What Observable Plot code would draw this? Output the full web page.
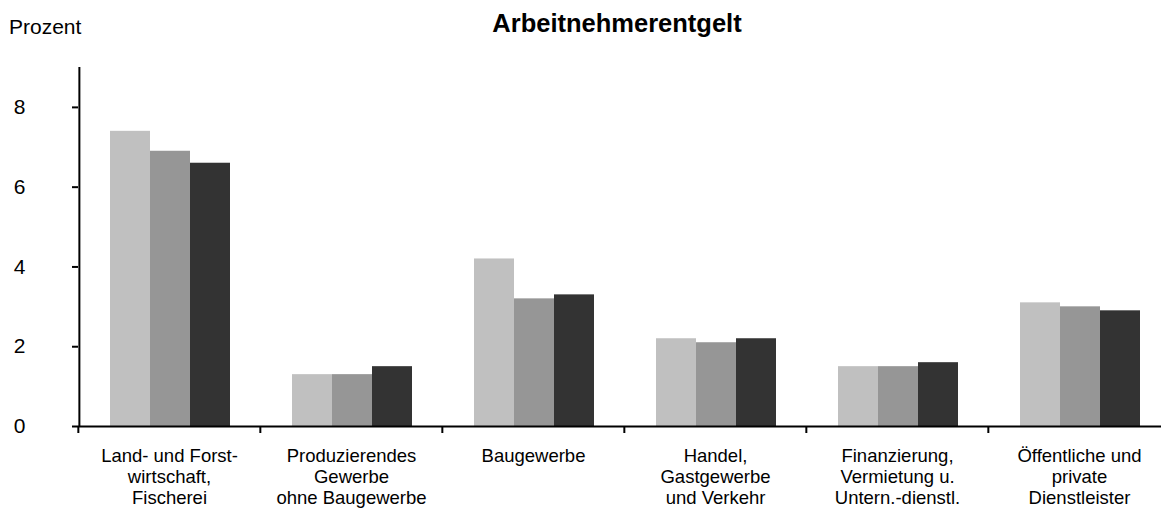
<!DOCTYPE html>
<html>
<head>
<meta charset="utf-8">
<script src="https://cdn.jsdelivr.net/npm/d3@7"></script>
<script src="https://cdn.jsdelivr.net/npm/@observablehq/plot@0.6"></script>
<style>
  body { margin: 0; background: #fff; font-family: "Liberation Sans", Arial, sans-serif; }
  #wrap { position: relative; width: 1161px; height: 512px; overflow: hidden; }
  #wrap svg { position: absolute; left: 0; top: 0; }
  #title { position: absolute; top: 10.8px; left: 617px; transform: translateX(-50%); font-weight: bold; font-size: 25.5px; line-height: 1; white-space: nowrap; color: #000; z-index: 2; }
  #unit { position: absolute; top: 16px; left: 9px; font-size: 21px; line-height: 1; color: #000; z-index: 2; }
</style>
</head>
<body>
<div id="wrap">
  <div id="title">Arbeitnehmerentgelt</div>
  <div id="unit">Prozent</div>
</div>
<script>
const categories = [
  "Land- und Forst-\nwirtschaft,\nFischerei",
  "Produzierendes\nGewerbe\nohne Baugewerbe",
  "Baugewerbe",
  "Handel,\nGastgewerbe\nund Verkehr",
  "Finanzierung,\nVermietung u.\nUntern.-dienstl.",
  "Öffentliche und\nprivate\nDienstleister"
];
const series = ["Reihe 1", "Reihe 2", "Reihe 3"];
const values1 = [7.4, 1.3, 4.2, 2.2, 1.5, 3.1];
const values2 = [6.9, 1.3, 3.2, 2.1, 1.5, 3.0];
const values3 = [6.6, 1.5, 3.3, 2.2, 1.6, 2.9];
const colors = ["#c0c0c0", "#969696", "#333333"];
const yTicks = [0, 2, 4, 6, 8];

const allValues = [values1, values2, values3];
const data = [];
categories.forEach((c, i) => {
  series.forEach((s, j) => data.push({cat: c, series: s, value: allValues[j][i]}));
});

// layout
const W = 1161, H = 512, mL = 77, mR = -10, mT = 67, mB = 86;
const fxStep = (W - mL - mR) / categories.length;
const xPadOuter = 0.7426, xAlign = 0.51;
const xStep = fxStep / (series.length + 2 * xPadOuter);
const xOffset = 2 * xPadOuter * xStep * xAlign; // facet edge to first bar

const plot = Plot.plot({
  width: W,
  height: H,
  marginLeft: mL,
  marginRight: mR,
  marginTop: mT,
  marginBottom: mB,
  style: {fontFamily: "Liberation Sans, Arial, sans-serif", fontSize: "21px", color: "#000", background: "transparent"},
  fx: {domain: categories, paddingInner: 0, paddingOuter: 0, label: null},
  x: {domain: series, paddingInner: 0, paddingOuter: xPadOuter, align: xAlign, axis: null},
  y: {domain: [0, 9], label: null},
  color: {domain: series, range: colors},
  marks: [
    Plot.barY(data, {fx: "cat", x: "series", y: "value", fill: "series"}),
    Plot.ruleY([0], {stroke: "#000", strokeWidth: 2}),
    Plot.ruleX([categories[0]], {fx: (d) => d, x: () => series[0], y1: 0, y2: 9, dx: -(xOffset + xStep / 2), stroke: "#000", strokeWidth: 2}),
    Plot.axisY({ticks: yTicks, tickSize: 6, tickPadding: 47, fontSize: 21, strokeWidth: 2, label: null}),
    Plot.axisFx({anchor: "bottom", ticks: categories, tickSize: 7, tickFormat: () => "", dx: -fxStep / 2, strokeWidth: 2, label: null}),
    Plot.axisFx({anchor: "bottom", tickSize: 0, tickPadding: 20.5, fontSize: 18.5, lineHeight: 1.135, label: null})
  ]
});
document.getElementById("wrap").prepend(plot);
</script>
</body>
</html>
